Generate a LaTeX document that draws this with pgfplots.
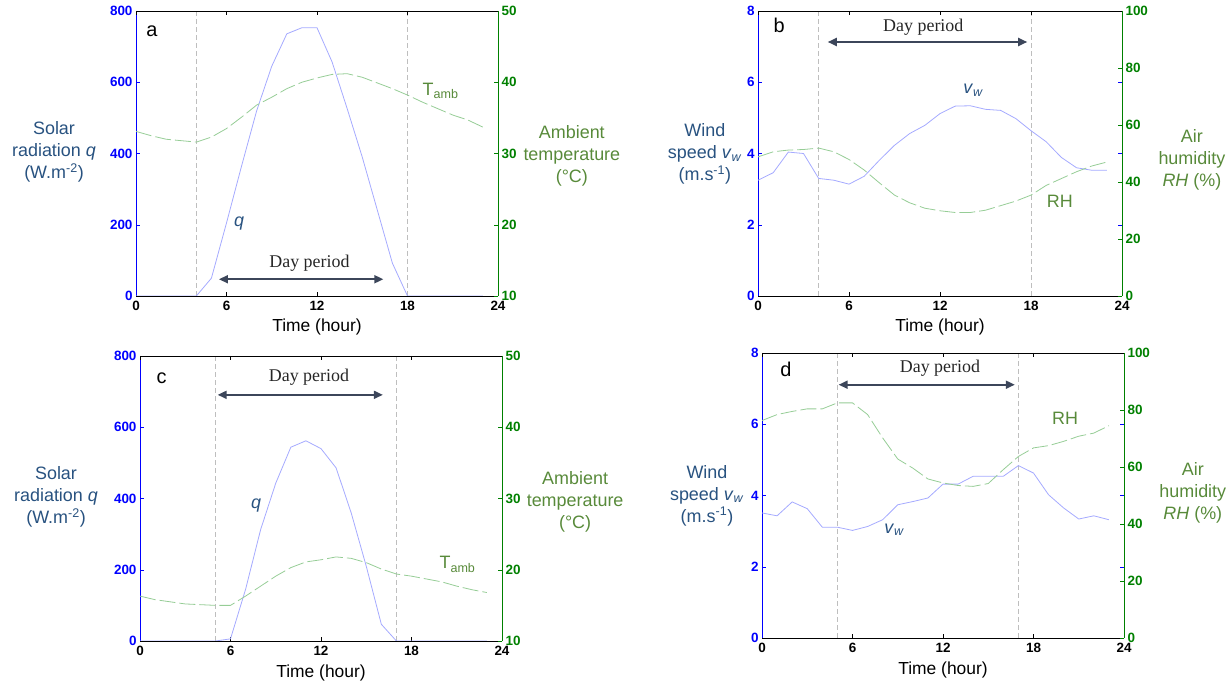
\documentclass[border=0pt]{standalone}
\usepackage{pgfplots}
\pgfplotsset{compat=1.18}
\usepackage{pgfplotstable}
\usepackage{fontspec}
\setmainfont{Liberation Sans}
\newfontfamily\timesfont{Liberation Serif}
\usetikzlibrary{arrows.meta}

\definecolor{tickblue}{RGB}{0,0,255}
\definecolor{tickgreen}{RGB}{0,128,0}
\definecolor{labblue}{RGB}{40,82,128}
\definecolor{labgreen}{RGB}{88,138,58}
\definecolor{qcol}{RGB}{165,170,255}
\definecolor{tcol}{RGB}{150,205,150}
\definecolor{vcol}{RGB}{190,190,190}
\definecolor{arrcol}{RGB}{60,70,90}

\newcommand\labfont{\fontsize{18}{22}\selectfont}

% hourly solar radiation (W/m2) and ambient temperature (deg C), day 1
\pgfplotstableread{
h q T
0 0 33.1
1 0 32.5
2 0 32.0
3 0 31.8
4 0 31.6
5 50 32.3
6 205 33.5
7 365 35.1
8 520 36.8
9 645 37.9
10 736 39.1
11 753 40.0
12 753 40.6
13 657 41.1
14 526 41.2
15 390 40.7
16 241 39.9
17 92 39.1
18 0 38.2
19 0 37.2
20 0 36.3
21 0 35.4
22 0 34.7
23 0 33.7
}\panelA

% hourly wind speed (m/s) and relative humidity (%), day 1
\pgfplotstableread{
h v RH
0 3.25 48.8
1 3.46 50.6
2 4.04 51.2
3 4.00 51.4
4 3.30 51.9
5 3.25 50.6
6 3.14 47.9
7 3.36 44.2
8 3.81 39.7
9 4.23 35.4
10 4.56 32.7
11 4.79 30.8
12 5.12 29.9
13 5.33 29.3
14 5.34 29.3
15 5.24 30.1
16 5.21 31.7
17 4.98 33.3
18 4.64 35.4
19 4.33 38.8
20 3.89 41.2
21 3.60 43.6
22 3.53 45.6
23 3.53 47.0
}\panelB

% hourly solar radiation and ambient temperature, day 2
\pgfplotstableread{
h q T
0 0 16.3
1 0 15.8
2 0 15.5
3 0 15.2
4 0 15.1
5 0 15.0
6 6 15.0
7 145 16.3
8 313 17.7
9 443 19.1
10 544 20.3
11 562 21.1
12 540 21.4
13 486 21.8
14 360 21.6
15 210 21.0
16 47 20.1
17 0 19.4
18 0 19.1
19 0 18.7
20 0 18.3
21 0 17.7
22 0 17.2
23 0 16.8
}\panelC

% hourly wind speed and relative humidity, day 2
\pgfplotstableread{
h v RH
0 3.51 76.3
1 3.43 78.4
2 3.82 79.5
3 3.63 80.4
4 3.11 80.4
5 3.11 82.5
6 3.02 82.5
7 3.13 78.4
8 3.32 70.2
9 3.74 62.8
10 3.83 59.6
11 3.93 55.8
12 4.32 54.4
13 4.32 53.5
14 4.54 53.2
15 4.54 54.2
16 4.54 59.1
17 4.84 63.7
18 4.63 66.7
19 4.02 67.5
20 3.65 69.0
21 3.34 70.8
22 3.43 71.9
23 3.32 74.5
}\panelD

\pgfplotsset{
  panel/.style={scale only axis, width=362bp, height=285bp, anchor=south west,
    xmin=0, xmax=24, xtick={0,6,12,18,24},
    tick align=inside, major tick length=4bp,
    /pgf/number format/assume math mode=true,
    tick label style={font=\fontsize{13.5}{15}\selectfont\bfseries},
  },
  leftside/.style={panel, axis x line*=bottom, axis y line*=left,
    x axis line style={black}, y axis line style={tickblue},
    xtick style={black}, ytick style={tickblue}, yticklabel style={text=tickblue},
    xticklabel style={yshift=-1.5bp},
    xlabel={Time (hour)},
    every axis x label/.style={at={(axis description cs:0.5,-0.108)}, anchor=center,
      font=\fontsize{17.5}{21}\selectfont},
    every axis y label/.style={anchor=center, align=center, font=\labfont, text=labblue},
  },
  rightside/.style={panel, axis x line*=top, axis y line*=right,
    xticklabels={}, x axis line style={black}, xtick style={black},
    y axis line style={tickgreen}, ytick style={tickgreen}, yticklabel style={text=tickgreen},
    every axis y label/.style={anchor=center, align=center, font=\labfont, text=labgreen},
  },
}
\tikzset{
  qline/.style={qcol, line width=0.8bp},
  tline/.style={tcol, line width=0.8bp, dash pattern=on 16bp off 4bp},
  vline/.style={vcol, line width=0.7bp, dash pattern=on 5bp off 3bp},
  dayarrow/.style={arrcol, line width=1.8bp, {Triangle[length=9bp,width=8bp]}-{Triangle[length=9bp,width=8bp]}},
  daytext/.style={font=\timesfont\fontsize{18}{20}\selectfont, text=black!85},
  letter/.style={anchor=base west, font=\fontsize{20}{22}\selectfont},
  curvelab/.style={font=\labfont},
}

\begin{document}
\begin{tikzpicture}
\useasboundingbox (0,0) rectangle (1231bp,686bp);

% ---------------- (a) ----------------
\begin{axis}[leftside, at={(136bp,390bp)}, ymin=0, ymax=800, ytick={0,200,...,800},
  ylabel={Solar\\radiation \textit{q}\\(W.m\textsuperscript{-2})},
  ylabel style={at={(axis description cs:-0.2265,0.505)}}]
  \draw[vline] (axis cs:4,0) -- (axis cs:4,800);
  \draw[vline] (axis cs:18,0) -- (axis cs:18,800);
  \addplot[qline] table[x=h, y=q] {\panelA};
  \draw[dayarrow] (axis cs:5.5,47) -- (axis cs:16.4,47);
  \node[daytext] at (axis cs:11.5,92) {Day period};
  \node[letter] at (axis description cs:0.019,0.909) {a};
  \node[curvelab, text=labblue] at (axis cs:6.83,202) {\textit{q}};
  \node[curvelab, text=labgreen] at (axis cs:20.2,575) {T\textsubscript{amb}};
\end{axis}
\begin{axis}[rightside, at={(136bp,390bp)}, ymin=10, ymax=50, ytick={10,20,...,50},
  ylabel={Ambient\\temperature\\(°C)},
  ylabel style={at={(axis description cs:1.204,0.491)}}]
  \addplot[tline] table[x=h, y=T] {\panelA};
\end{axis}

% ---------------- (b) ----------------
\begin{axis}[leftside, at={(758bp,390bp)}, width=364bp, ymin=0, ymax=8, ytick={0,2,...,8},
  ylabel={Wind\\speed \textit{v}\textsubscript{\textit{w}}\\(m.s\textsuperscript{-1})},
  ylabel style={at={(axis description cs:-0.146,0.498)}}]
  \draw[vline] (axis cs:4,0) -- (axis cs:4,8);
  \draw[vline] (axis cs:18,0) -- (axis cs:18,8);
  \addplot[qline] table[x=h, y=v] {\panelB};
  \draw[dayarrow] (axis cs:4.6,7.13) -- (axis cs:17.75,7.13);
  \node[daytext] at (axis cs:10.9,7.55) {Day period};
  \node[letter] at (axis description cs:0.033,0.923) {b};
  \node[curvelab, text=labblue] at (axis cs:14.2,5.78) {\textit{v}\textsubscript{\textit{w}}};
  \node[curvelab, text=labgreen] at (axis cs:19.9,2.66) {RH};
\end{axis}
\begin{axis}[rightside, at={(758bp,390bp)}, width=364bp, ymin=0, ymax=100, ytick={0,20,...,100},
  extra y ticks={25,50,75},
  extra y tick style={ytick style={tickblue}, major tick style={tickblue}, yticklabel={}},
  ylabel={Air\\humidity\\\textit{RH} (\%)},
  ylabel style={at={(axis description cs:1.192,0.477)}}]
  \addplot[tline] table[x=h, y=RH] {\panelB};
\end{axis}

% ---------------- (c) ----------------
\begin{axis}[leftside, at={(140bp,45bp)}, ymin=0, ymax=800, ytick={0,200,...,800},
  every axis x label/.append style={at={(axis description cs:0.5,-0.112)}},
  ylabel={Solar\\radiation \textit{q}\\(W.m\textsuperscript{-2})},
  ylabel style={at={(axis description cs:-0.232,0.505)}}]
  \draw[vline] (axis cs:5,0) -- (axis cs:5,800);
  \draw[vline] (axis cs:17,0) -- (axis cs:17,800);
  \addplot[qline] table[x=h, y=q] {\panelC};
  \draw[dayarrow] (axis cs:5.15,691) -- (axis cs:16.1,691);
  \node[daytext] at (axis cs:11.2,740) {Day period};
  \node[letter] at (axis description cs:0.036,0.905) {c};
  \node[curvelab, text=labblue] at (axis cs:7.7,381) {\textit{q}};
  \node[curvelab, text=labgreen] at (axis cs:21.05,215) {T\textsubscript{amb}};
\end{axis}
\begin{axis}[rightside, at={(140bp,45bp)}, ymin=10, ymax=50, ytick={10,20,...,50},
  ylabel={Ambient\\temperature\\(°C)},
  ylabel style={at={(axis description cs:1.202,0.488)}}]
  \addplot[tline] table[x=h, y=T] {\panelC};
\end{axis}

% ---------------- (d) ----------------
\begin{axis}[leftside, at={(762bp,48bp)}, ymin=0, ymax=8, ytick={0,2,...,8},
  every axis x label/.append style={at={(axis description cs:0.5,-0.112)}},
  ylabel={Wind\\speed \textit{v}\textsubscript{\textit{w}}\\(m.s\textsuperscript{-1})},
  ylabel style={at={(axis description cs:-0.152,0.5)}}]
  \draw[vline] (axis cs:5,0) -- (axis cs:5,8);
  \draw[vline] (axis cs:17,0) -- (axis cs:17,8);
  \addplot[qline] table[x=h, y=v] {\panelD};
  \draw[dayarrow] (axis cs:5.08,7.11) -- (axis cs:16.76,7.11);
  \node[daytext] at (axis cs:11.8,7.58) {Day period};
  \node[letter] at (axis description cs:0.041,0.916) {d};
  \node[curvelab, text=labblue] at (axis cs:8.78,3.04) {\textit{v}\textsubscript{\textit{w}}};
  \node[curvelab, text=labgreen] at (axis cs:20.1,6.17) {RH};
\end{axis}
\begin{axis}[rightside, at={(762bp,48bp)}, ymin=0, ymax=100, ytick={0,20,...,100},
  extra y ticks={25,50,75},
  extra y tick style={ytick style={tickblue}, major tick style={tickblue}, yticklabel={}},
  ylabel={Air\\humidity\\\textit{RH} (\%)},
  ylabel style={at={(axis description cs:1.19,0.509)}}]
  \addplot[tline] table[x=h, y=RH] {\panelD};
\end{axis}
\end{tikzpicture}
\end{document}
